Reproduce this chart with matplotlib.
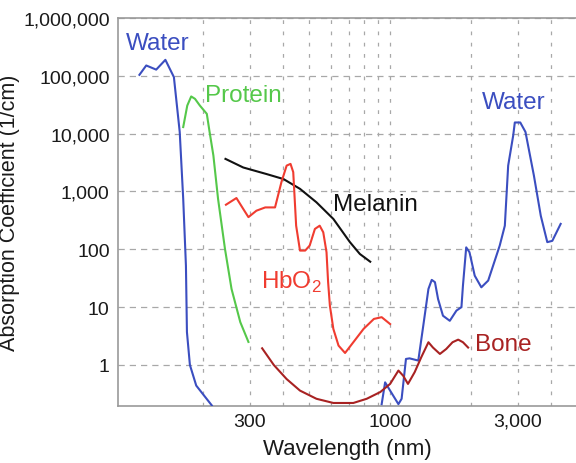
import matplotlib
matplotlib.use("Agg")
import matplotlib.pyplot as plt

plt.rcParams['font.family'] = ['Liberation Sans', 'DejaVu Sans']
plt.rcParams['mathtext.fontset'] = 'custom'
plt.rcParams['mathtext.rm'] = 'Liberation Sans'

# ---- data (wavelength nm, absorption coefficient 1/cm) ----
water_uv_wl = [116, 123, 134, 145, 156, 164, 169, 173, 174.5, 179, 189, 216]
water_uv_mu = [104000, 151000, 128000, 189000, 95000, 10700, 745, 52, 3.7, 1.0, 0.44, 0.2]

water_ir_wl = [930, 958, 1000, 1074, 1104, 1146, 1182, 1274, 1330, 1390, 1430, 1470, 1510,
               1575, 1670, 1768, 1846, 1870, 1923, 1978, 2069, 2190, 2323, 2565, 2680,
               2758, 2880, 2920, 3060, 3200, 3440, 3650, 3860, 4030, 4330]
water_ir_mu = [0.21, 0.5, 0.36, 0.21, 0.26, 1.27, 1.3, 1.19, 4.8, 20.6, 29.6, 27, 13.8,
               7.1, 5.8, 8.7, 10, 23.6, 108, 89, 35, 22, 28.8, 116, 256,
               2800, 9300, 15600, 15600, 10700, 1890, 380, 133, 140, 275]

protein_wl = [169, 175, 181, 187, 195, 207, 212, 219, 228, 242, 256, 276, 296]
protein_mu = [13000, 30600, 44000, 40000, 30600, 22000, 10700, 4200, 745, 101, 20.6, 5.5, 2.5]

melanin_wl = [243, 283, 346, 400, 461, 531, 614, 708, 771, 843]
melanin_mu = [3660, 2600, 2000, 1640, 1110, 650, 335, 133, 83, 61]

hbo2_wl = [244, 267, 283, 296, 317, 342, 372, 393, 411, 425, 435, 446, 461, 482, 501,
           524, 546, 563, 579, 587, 596, 614, 642, 679, 729, 796, 870, 930, 1000]
hbo2_mu = [590, 770, 500, 360, 465, 530, 530, 1450, 2800, 3000, 2160, 256, 95, 95, 116,
           225, 256, 197, 89, 27, 10.6, 4.2, 2.16, 1.61, 2.47, 4.2, 6.25, 6.7, 5.1]

bone_wl = [333, 368, 411, 461, 531, 614, 729, 818, 919, 1000, 1074, 1119, 1166, 1235,
           1307, 1390, 1445, 1534, 1620, 1710, 1795, 1870, 1955]
bone_mu = [1.94, 1.0, 0.57, 0.36, 0.26, 0.22, 0.22, 0.26, 0.34, 0.47, 0.80, 0.65, 0.47, 0.75,
           1.36, 2.47, 2.0, 1.55, 1.89, 2.47, 2.74, 2.47, 2.0]

y_ticks = [1, 10, 100, 1000, 10000, 100000, 1000000]
y_tick_labels = ['1', '10', '100', '1,000', '10,000', '100,000', '1,000,000']
x_ticks = [300, 1000, 3000]
x_tick_labels = ['300', '1000', '3,000']
x_grid_minor = [200, 400, 500, 600, 700, 800, 900, 2000, 4000]

BLUE = '#3b4ec0'
GREEN = '#55c84a'
RED = '#f03c30'
DARKRED = '#a82222'

fig = plt.figure(figsize=(5.76, 4.64), dpi=100)
ax = fig.add_axes([118/576, 1 - 407/464, 1 - 118/576, (407 - 19)/464])
ax.set_xscale('log')
ax.set_yscale('log')
ax.set_xlim(96.5, 4940)
ax.set_ylim(0.195, 1e6)

lw = 1.5
ax.plot(water_uv_wl, water_uv_mu, color=BLUE, lw=lw, zorder=3)
ax.plot(water_ir_wl, water_ir_mu, color=BLUE, lw=lw, zorder=3)
ax.plot(protein_wl, protein_mu, color=GREEN, lw=lw, zorder=3)
ax.plot(melanin_wl, melanin_mu, color='#111111', lw=lw, zorder=3)
ax.plot(hbo2_wl, hbo2_mu, color=RED, lw=lw, zorder=3)
ax.plot(bone_wl, bone_mu, color=DARKRED, lw=lw, zorder=3)

fs = 17.5
ax.annotate('Water', xy=(126, 464 - 44), xycoords='figure pixels', color=BLUE, fontsize=fs, va='center', ha='left')
ax.annotate('Protein', xy=(205, 464 - 96), xycoords='figure pixels', color=GREEN, fontsize=fs, va='center', ha='left')
ax.annotate('Melanin', xy=(333, 464 - 205), xycoords='figure pixels', color='#111111', fontsize=fs, va='center', ha='left')
ax.annotate(r'HbO$_{\mathregular{2}}$', xy=(261, 464 - 282), xycoords='figure pixels', color=RED, fontsize=fs, va='center', ha='left')
ax.annotate('Bone', xy=(475, 464 - 345), xycoords='figure pixels', color=DARKRED, fontsize=fs, va='center', ha='left')
ax.annotate('Water', xy=(482, 464 - 103), xycoords='figure pixels', color=BLUE, fontsize=fs, va='center', ha='left')

ax.set_yticks(y_ticks)
ax.set_yticklabels(y_tick_labels)
ax.yaxis.set_minor_locator(matplotlib.ticker.NullLocator())
ax.set_xticks(x_ticks)
ax.set_xticklabels(x_tick_labels)
ax.set_xticks(x_grid_minor, minor=True)
ax.xaxis.set_minor_formatter(matplotlib.ticker.NullFormatter())

ax.tick_params(axis='both', which='both', length=0, labelsize=14, colors='#1a1a1a', pad=5)
ax.tick_params(axis='y', pad=6)

ax.grid(True, axis='y', which='major', color='#a8a8a8', linestyle=(0, (5, 4)), lw=0.9)
ax.grid(True, axis='x', which='both', color='#a8a8a8', linestyle=(0, (3, 6)), lw=0.9)
ax.set_axisbelow(True)

for s in ['left', 'bottom', 'top']:
    ax.spines[s].set_color('#999999')
    ax.spines[s].set_linewidth(1.2)
ax.spines['right'].set_visible(False)

ax.set_xlabel('Wavelength (nm)', fontsize=16, color='#1a1a1a', labelpad=6)
ax.set_ylabel('Absorption Coefficient (1/cm)', fontsize=15.5, color='#1a1a1a')
ax.yaxis.set_label_coords((20 - 118) / 458, 0.5)

fig.savefig('out.png', dpi=100)
